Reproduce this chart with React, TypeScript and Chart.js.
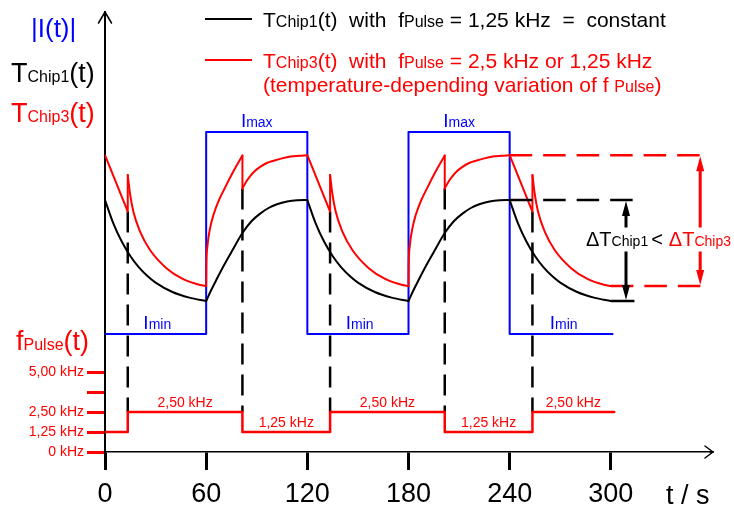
import React, { useEffect, useRef } from 'react';
import { Chart, registerables } from 'chart.js';
Chart.register(...registerables);

const FONT = '"Liberation Sans", Arial, Helvetica, sans-serif';
const RED = '#ff0000';
const BLUE = '#0000ff';
const BLACK = '#000000';

// ---- axes ----
const timeTicks = [0, 60, 120, 180, 240, 300];
const freqTicks = [0, 1.25, 2.5, 3.75, 5];
const freqTickLabels = ['0 kHz', '1,25 kHz', '2,50 kHz', '', '5,00 kHz'];

// ---- |I(t)| (arbitrary units on the temperature/current axis) ----
const currentTimes = [0, 60, 60, 120, 120, 180, 180, 240, 240, 301];
const currentValues = [29.5, 29.5, 80, 80, 29.5, 29.5, 80, 80, 29.5, 29.5];

// ---- T_Chip1(t) ----
const chip1Fall1: [number, number][] = [[0, 63], [5, 57.1], [10, 52.55], [15, 49], [20, 46.2], [25, 44.05], [30, 42.35], [40, 40], [50, 38.6], [60, 37.75]];
const chip1Rise1: [number, number][] = [[60, 37.75], [63, 40.5], [66, 43], [70, 46.25], [75, 50], [81.5, 54.75], [87, 57.75], [92, 59.6], [97, 61], [102, 61.95], [108, 62.65], [114, 62.95], [120, 63]];
const chip1Fall2: [number, number][] = [[120, 63], [125, 57.1], [130, 52.55], [135, 49], [140, 46.2], [145, 44.05], [150, 42.35], [160, 40], [170, 38.6], [180, 37.75]];
const chip1Rise2: [number, number][] = [[180, 37.75], [183, 40.5], [186, 43], [190, 46.25], [195, 50], [201.5, 54.75], [207, 57.75], [212, 59.6], [217, 61], [222, 61.95], [228, 62.65], [234, 62.95], [240, 63]];
const chip1Fall3: [number, number][] = [[240, 63], [245, 57.1], [250, 52.55], [255, 49], [260, 46.2], [265, 44.05], [270, 42.35], [280, 40], [290, 38.6], [300, 37.75]];

// ---- T_Chip3(t) ----
const chip3Drop1: [number, number][] = [[0, 74.2], [13.5, 60.1], [13.5, 69.25]];
const chip3Decay1: [number, number][] = [[13.5, 69.25], [14.8, 64.7], [16.8, 60.1], [20.8, 55.1], [26.7, 50.5], [36.6, 45.9], [46.4, 43.2], [56.4, 41.75], [60, 41.5]];
const chip3Rise1: [number, number][] = [[60, 41.5], [60.1, 46.3], [60.7, 51.3], [62.3, 55.9], [64.3, 59.25], [67.2, 62.6], [71.2, 66.1], [76.1, 70.1], [81.5, 74.1]];
const chip3Step1: [number, number][] = [[81.5, 74.1], [81.5, 65.9]];
const chip3Approach1: [number, number][] = [[81.5, 65.9], [84, 67.75], [86, 68.9], [89, 70.3], [92, 71.3], [96, 72.25], [100, 72.8], [105, 73.4], [110, 73.85], [115, 74.05], [120, 74.2]];
const chip3Drop2: [number, number][] = [[120, 74.2], [133.5, 60.1], [133.5, 69.25]];
const chip3Decay2: [number, number][] = [[133.5, 69.25], [134.8, 64.7], [136.8, 60.1], [140.8, 55.1], [146.7, 50.5], [156.6, 45.9], [166.4, 43.2], [176.4, 41.75], [180, 41.5]];
const chip3Rise2: [number, number][] = [[180, 41.5], [180.1, 46.3], [180.7, 51.3], [182.3, 55.9], [184.3, 59.25], [187.2, 62.6], [191.2, 66.1], [196.1, 70.1], [201.5, 74.1]];
const chip3Step2: [number, number][] = [[201.5, 74.1], [201.5, 65.9]];
const chip3Approach2: [number, number][] = [[201.5, 65.9], [204, 67.75], [206, 68.9], [209, 70.3], [212, 71.3], [216, 72.25], [220, 72.8], [225, 73.4], [230, 73.85], [235, 74.05], [240, 74.2]];
const chip3Drop3: [number, number][] = [[240, 74.2], [253.5, 60.1], [253.5, 69.25]];
const chip3Decay3: [number, number][] = [[253.5, 69.25], [254.8, 64.7], [256.8, 60.1], [260.8, 55.1], [266.7, 50.5], [276.6, 45.9], [286.4, 43.2], [296.4, 41.75], [300, 41.5]];

// ---- f_Pulse(t) ----
const switchTimes = [13.5, 81.5, 133.5, 201.5, 253.5];
const freqLevels = [1.25, 2.5, 1.25, 2.5, 1.25, 2.5];
const freqEnd = 302;
const freqLabels = ['', '2,50 kHz', '1,25 kHz', '2,50 kHz', '1,25 kHz', '2,50 kHz'];
const switchTopValues = [60.1, 65.9, 60.1, 65.9, 60.1];
const switchBottomFreq = 2.5;

// ---- annotation values ----
const chip1Max = 63;
const chip1Min = 37.75;
const chip3Max = 74.2;
const chip3Min = 41.5;
const refStart = 240;
const refMinStart = 300;
const chip1RefEnd = 314;
const chip3RefEnd = 354.5;
const chip1ArrowTime = 309;
const chip3ArrowTime = 353;
const iMax = 80;
const iMin = 29.5;
const iMaxLabelTimes = [90, 210];
const iMinLabelTimes = [31, 151, 272];

type Part = [string, number, string, number?];

function drawRich(ctx: CanvasRenderingContext2D, x: number, y: number, parts: Part[], align: 'left' | 'center' = 'left') {
  let w = 0;
  for (const [t, s, , g] of parts) {
    ctx.font = `${s}px ${FONT}`;
    w += ctx.measureText(t).width + (g || 0);
  }
  let cx = align === 'center' ? x - w / 2 : x;
  ctx.textAlign = 'left';
  ctx.textBaseline = 'alphabetic';
  for (const [t, s, c, g] of parts) {
    cx += g || 0;
    ctx.font = `${s}px ${FONT}`;
    ctx.fillStyle = c;
    ctx.fillText(t, cx, y);
    cx += ctx.measureText(t).width;
  }
}

function line(pts: [number, number][], color: string, smooth: boolean, order: number, yAxisID = 'yT', width = 2) {
  return {
    data: pts.map(([x, y]) => ({ x, y })),
    borderColor: color,
    borderWidth: width,
    pointRadius: 0,
    fill: false,
    tension: 0,
    cubicInterpolationMode: smooth ? 'monotone' : 'default',
    xAxisID: 'x',
    yAxisID,
    borderCapStyle: 'round',
    borderJoinStyle: 'round',
    order,
  };
}

function arrowHead(ctx: CanvasRenderingContext2D, x: number, y: number, dir: number, len = 15, half = 4) {
  ctx.beginPath();
  ctx.moveTo(x, y);
  ctx.lineTo(x - half, y - dir * len);
  ctx.lineTo(x + half, y - dir * len);
  ctx.closePath();
  ctx.fill();
}

const annot = {
  id: 'annot',
  beforeDatasetsDraw(chart: any) {
    const { ctx, scales } = chart;
    const { x, yT, yF } = scales;
    ctx.save();
    ctx.strokeStyle = BLACK;
    ctx.lineWidth = 2.5;
    ctx.setLineDash([21, 10]);
    switchTimes.forEach((t, i) => {
      const px = x.getPixelForValue(t);
      ctx.beginPath();
      ctx.moveTo(px, yT.getPixelForValue(switchTopValues[i]));
      ctx.lineTo(px, yF.getPixelForValue(switchBottomFreq));
      ctx.stroke();
    });
    ctx.restore();
  },
  afterDatasetsDraw(chart: any) {
    const { ctx, scales } = chart;
    const { x, yT, yF } = scales;
    ctx.save();
    // reference lines
    ctx.lineWidth = 2.5;
    ctx.setLineDash([22.5, 11]);
    ctx.strokeStyle = RED;
    ctx.beginPath();
    ctx.moveTo(x.getPixelForValue(refStart), yT.getPixelForValue(chip3Max));
    ctx.lineTo(x.getPixelForValue(chip3RefEnd), yT.getPixelForValue(chip3Max));
    ctx.moveTo(x.getPixelForValue(refMinStart), yT.getPixelForValue(chip3Min));
    ctx.lineTo(x.getPixelForValue(chip3RefEnd), yT.getPixelForValue(chip3Min));
    ctx.stroke();
    ctx.strokeStyle = BLACK;
    ctx.beginPath();
    ctx.moveTo(x.getPixelForValue(refStart), yT.getPixelForValue(chip1Max));
    ctx.lineTo(x.getPixelForValue(chip1RefEnd), yT.getPixelForValue(chip1Max));
    ctx.stroke();
    ctx.setLineDash([]);
    ctx.beginPath();
    ctx.moveTo(x.getPixelForValue(refMinStart), yT.getPixelForValue(chip1Min));
    ctx.lineTo(x.getPixelForValue(chip1RefEnd), yT.getPixelForValue(chip1Min));
    ctx.stroke();

    // double arrows + text
    const bx = x.getPixelForValue(chip1ArrowTime);
    const b1 = yT.getPixelForValue(chip1Max);
    const b2 = yT.getPixelForValue(chip1Min);
    const rx = x.getPixelForValue(chip3ArrowTime);
    const r1 = yT.getPixelForValue(chip3Max);
    const r2 = yT.getPixelForValue(chip3Min);
    const textY = (b1 + b2) / 2 - 5;
    const gapTop = textY - 18;
    const gapBot = textY + 6;
    ctx.lineWidth = 3;
    ctx.lineCap = 'butt';
    ctx.strokeStyle = BLACK;
    ctx.fillStyle = BLACK;
    ctx.beginPath();
    ctx.moveTo(bx, b1 + 10); ctx.lineTo(bx, gapTop);
    ctx.moveTo(bx, gapBot); ctx.lineTo(bx, b2 - 10);
    ctx.stroke();
    arrowHead(ctx, bx, b1 + 1, -1);
    arrowHead(ctx, bx, b2 - 1, 1);
    ctx.strokeStyle = RED;
    ctx.fillStyle = RED;
    ctx.beginPath();
    ctx.moveTo(rx, r1 + 10); ctx.lineTo(rx, gapTop);
    ctx.moveTo(rx, gapBot); ctx.lineTo(rx, r2 - 10);
    ctx.stroke();
    arrowHead(ctx, rx, r1 + 1, -1);
    arrowHead(ctx, rx, r2 - 1, 1);
    drawRich(ctx, bx - 40, textY, [
      ['\u0394T', 20, BLACK], ['Chip1', 14, BLACK], ['<', 20, BLACK, 3], ['\u0394T', 20, RED, 6], ['Chip3', 14, RED],
    ]);

    // current labels
    iMaxLabelTimes.forEach((t) => drawRich(ctx, x.getPixelForValue(t), yT.getPixelForValue(iMax) - 5, [['I', 19, BLUE], ['max', 14, BLUE]], 'center'));
    iMinLabelTimes.forEach((t) => drawRich(ctx, x.getPixelForValue(t), yT.getPixelForValue(iMin) - 5, [['I', 19, BLUE], ['min', 14, BLUE]], 'center'));

    // frequency labels
    const bounds = [0, ...switchTimes, freqEnd];
    freqLabels.forEach((lab, i) => {
      if (!lab) return;
      const cx = x.getPixelForValue((bounds[i] + bounds[i + 1]) / 2);
      drawRich(ctx, cx, yF.getPixelForValue(freqLevels[i]) - 5, [[lab, 14, RED]], 'center');
    });
    ctx.restore();
  },
  afterDraw(chart: any) {
    const { ctx, chartArea } = chart;
    ctx.save();
    ctx.strokeStyle = BLACK;
    ctx.lineWidth = 1.5;
    ctx.lineCap = 'round';
    ctx.lineJoin = 'round';
    // y-axis arrow
    const l = chartArea.left;
    const t = chartArea.top;
    ctx.beginPath();
    ctx.moveTo(l - 6.5, t + 11); ctx.lineTo(l, t); ctx.lineTo(l + 6.5, t + 11);
    ctx.stroke();
    // x-axis arrow
    const r = chartArea.right + 1;
    const b = chartArea.bottom;
    ctx.beginPath();
    ctx.moveTo(chartArea.right - 2, b); ctx.lineTo(r, b);
    ctx.moveTo(r - 8, b - 6); ctx.lineTo(r, b); ctx.lineTo(r - 8, b + 6);
    ctx.stroke();

    // axis title
    drawRich(ctx, 666, 504, [['t / s', 27, BLACK]]);

    // left labels
    drawRich(ctx, 31, 37, [['|I(t)|', 26, BLUE]]);
    drawRich(ctx, 11, 82, [['T', 27, BLACK], ['Chip1', 16, BLACK], ['(t)', 27, BLACK]]);
    drawRich(ctx, 11, 122, [['T', 27, RED], ['Chip3', 16, RED], ['(t)', 27, RED]]);
    drawRich(ctx, 16, 350, [['f', 27, RED], ['Pulse', 16, RED], ['(t)', 27, RED]]);

    // legend
    ctx.lineWidth = 2;
    ctx.lineCap = 'butt';
    ctx.strokeStyle = BLACK;
    ctx.beginPath(); ctx.moveTo(205, 19); ctx.lineTo(252, 19); ctx.stroke();
    ctx.strokeStyle = RED;
    ctx.beginPath(); ctx.moveTo(205, 60); ctx.lineTo(252, 60); ctx.stroke();
    drawRich(ctx, 263, 27, [['T', 21, BLACK], ['Chip1', 16, BLACK], ['(t)  with  f', 21, BLACK], ['Pulse', 16, BLACK], [' = 1,25 kHz  =  constant', 21, BLACK]]);
    drawRich(ctx, 263, 68, [['T', 21, RED], ['Chip3', 16, RED], ['(t)  with  f', 21, RED], ['Pulse', 16, RED], [' = 2,5 kHz or 1,25 kHz', 21, RED]]);
    drawRich(ctx, 263, 92, [['(temperature-depending variation of f ', 21, RED], ['Pulse', 16, RED], [')', 21, RED]]);
    ctx.restore();
  },
};

export default function App() {
  const ref = useRef<HTMLCanvasElement | null>(null);
  useEffect(() => {
    if (!ref.current) return;
    const freqPts: [number, number][] = [];
    const bounds = [0, ...switchTimes, freqEnd];
    freqLevels.forEach((lv, i) => {
      freqPts.push([bounds[i], lv]);
      freqPts.push([bounds[i + 1], lv]);
    });
    const currentPts: [number, number][] = currentTimes.map((t, i) => [t, currentValues[i]]);
    const datasets: any[] = [
      line(currentPts, BLUE, false, 5),
      line(freqPts, RED, false, 4, 'yF', 2.5),
      ...[chip1Fall1, chip1Rise1, chip1Fall2, chip1Rise2, chip1Fall3].map((p) => line(p, BLACK, true, 3)),
      ...[chip3Decay1, chip3Rise1, chip3Approach1, chip3Decay2, chip3Rise2, chip3Approach2, chip3Decay3].map((p) => line(p, RED, true, 1)),
      ...[chip3Drop1, chip3Step1, chip3Drop2, chip3Step2, chip3Drop3].map((p) => line(p, RED, false, 1)),
    ];
    const chart = new Chart(ref.current, {
      type: 'line',
      data: { datasets },
      options: {
        animation: false,
        responsive: false,
        devicePixelRatio: 1,
        events: [],
        layout: { padding: { top: 12, right: 22, left: 0, bottom: 0 } },
        plugins: { legend: { display: false }, tooltip: { enabled: false } },
        scales: {
          x: {
            type: 'linear',
            min: 0,
            max: 360,
            afterBuildTicks: (s: any) => { s.ticks = timeTicks.map((v) => ({ value: v })); },
            afterFit: (s: any) => { s.height = 55; },
            grid: { drawOnChartArea: false, color: BLACK, lineWidth: 3, tickColor: BLACK, tickWidth: 3, tickLength: 18 },
            border: { display: true, color: BLACK, width: 1.5 },
            ticks: {
              autoSkip: false, maxRotation: 0, color: BLACK, padding: 8,
              font: { family: FONT, size: 27 },
              callback: (v: any) => String(v),
            },
          },
          yF: {
            type: 'linear',
            position: 'left',
            min: 0,
            max: 27.5,
            afterBuildTicks: (s: any) => { s.ticks = freqTicks.map((v) => ({ value: v })); },
            afterFit: (s: any) => { s.width = 105; },
            grid: { drawOnChartArea: false, color: RED, lineWidth: 3, tickColor: RED, tickWidth: 3, tickLength: 18 },
            border: { display: true, color: BLACK, width: 2 },
            ticks: {
              autoSkip: false, color: RED, padding: 3,
              font: { family: FONT, size: 14 },
              callback: (_v: any, i: number) => freqTickLabels[i],
            },
          },
          yT: { type: 'linear', display: false, min: 0, max: 110 },
        },
      } as any,
      plugins: [annot],
    });
    return () => chart.destroy();
  }, []);
  return (
    <div style={{ position: 'absolute', left: 0, top: 0, width: 734, height: 507, background: '#fff' }}>
      <canvas ref={ref} width={734} height={507} style={{ display: 'block' }} />
    </div>
  );
}
